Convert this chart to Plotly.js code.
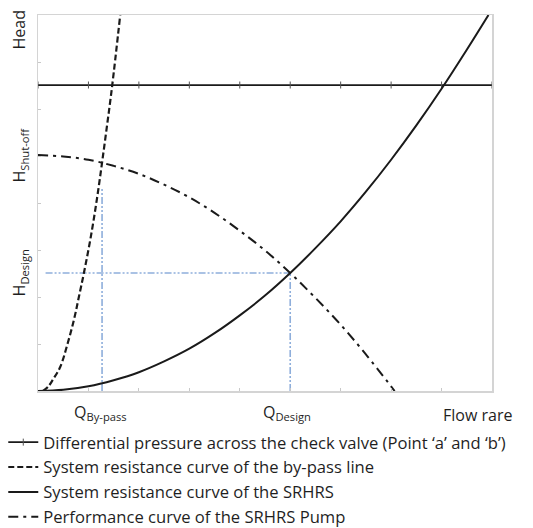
<!DOCTYPE html>
<html>
<head>
<meta charset="utf-8">
<script src="https://cdn.plot.ly/plotly-3.0.1.min.js"></script>
<style>html,body{margin:0;padding:0;background:#fff;}#chart{width:533px;height:528px;}</style>
</head>
<body>
<div id="chart"></div>
<script>
// Differential pressure across the check valve (flat line with markers)
const dpQ = [0, 1, 2, 3, 4, 5, 6, 7, 8, 9];
const dpH = [6.51, 6.51, 6.51, 6.51, 6.51, 6.51, 6.51, 6.51, 6.51, 6.51];

// System resistance curve of the by-pass line
const bypassQ = [0.10, 0.20, 0.30, 0.44, 0.59, 0.72, 0.81, 0.91, 1.05, 1.17, 1.27, 1.37, 1.47, 1.63];
const bypassH = [0.00, 0.09, 0.25, 0.51, 1.02, 1.55, 2.00, 2.51, 3.30, 4.10, 4.86, 5.66, 6.49, 8.00];

// System resistance curve of the SRHRS
const srhrsQ = [0, 0.5, 1, 1.5, 2, 2.5, 3, 3.5, 4, 4.5, 5, 5.5, 6, 6.5, 7, 7.5, 8, 8.5, 8.93];
const srhrsH = [0, 0.025, 0.10, 0.23, 0.40, 0.63, 0.90, 1.23, 1.61, 2.03, 2.51, 3.04, 3.61, 4.24, 4.92, 5.65, 6.43, 7.26, 8.00];

// Performance curve of the SRHRS pump
const pumpQ = [0, 0.5, 1, 1.5, 2, 2.5, 3, 3.5, 4, 4.5, 5, 5.5, 6, 6.5, 7.07];
const pumpH = [5.02, 4.99, 4.92, 4.79, 4.62, 4.39, 4.12, 3.79, 3.41, 2.99, 2.51, 1.98, 1.41, 0.78, 0.00];

// Reference (operating point) guide lines
const qBypass = 1.27, hBypassTop = 4.30;
const qDesign = 5.0, hDesign = 2.51, hShutoff = 5.02;
const guideStartQ = 0.15;

const legendNames = [
  "Differential pressure across the check valve (Point \u2018a\u2019 and \u2018b\u2019)",
  "System resistance curve of the by-pass line",
  "System resistance curve of the SRHRS",
  "Performance curve of the SRHRS Pump"
];

const FONT = "Open Sans, Noto Sans, sans-serif";
const TXT = "#1f1f1f";
const guide = {color: "#8eaedb", width: 1.6, dash: "7px,2px,2px,2px,2px,2px"};

const traces = [
  {x: [qBypass, qBypass], y: [0, hBypassTop], mode: "lines", line: guide, showlegend: false, hoverinfo: "skip"},
  {x: [qDesign, qDesign], y: [0, hDesign], mode: "lines", line: guide, showlegend: false, hoverinfo: "skip"},
  {x: [guideStartQ, qDesign], y: [hDesign, hDesign], mode: "lines", line: guide, showlegend: false, hoverinfo: "skip"},
  {x: dpQ, y: dpH, mode: "lines+markers", name: legendNames[0], legendgroup: "a",
   line: {color: "#1a1a1a", width: 1.8},
   marker: {symbol: "line-ns", size: 5, line: {color: "#555", width: 1}}},
  {x: bypassQ, y: bypassH, mode: "lines", name: legendNames[1], legendgroup: "b",
   line: {color: "#1a1a1a", width: 2.2, dash: "6px,3px", shape: "spline"}},
  {x: srhrsQ, y: srhrsH, mode: "lines", name: legendNames[2], legendgroup: "c",
   line: {color: "#1a1a1a", width: 2, shape: "spline"}},
  {x: pumpQ, y: pumpH, mode: "lines", name: legendNames[3], legendgroup: "d",
   line: {color: "#1a1a1a", width: 2, dash: "10px,5px,3px,5px", shape: "spline"}}
];

const axisCommon = {
  showgrid: false, zeroline: false, showticklabels: false,
  showline: true, mirror: true, linecolor: "#d4d4d4", linewidth: 1.5,
  ticks: "inside", ticklen: 3, tickcolor: "#c8c8c8", tickwidth: 1, dtick: 1, tick0: 0,
  fixedrange: true
};

const yLab = {xref: "paper", yref: "y", x: -0.041, xanchor: "center", yanchor: "middle",
              textangle: -90, showarrow: false, font: {family: FONT, size: 16, color: TXT}};
const xLab = {xref: "x", yref: "paper", y: 0, xanchor: "center", yanchor: "top",
              showarrow: false, font: {family: FONT, size: 16, color: TXT}};

const layout = {
  width: 533, height: 528,
  margin: {l: 38, r: 41, t: 15, b: 137, autoexpand: false},
  paper_bgcolor: "#fff", plot_bgcolor: "#fff",
  font: {family: FONT, color: TXT, size: 16},
  xaxis: Object.assign({}, axisCommon, {range: [0, 9]}),
  yaxis: Object.assign({}, axisCommon, {range: [0, 8]}),
  showlegend: true,
  legend: {
    x: -0.0765, xanchor: "left", y: -0.090, yanchor: "top",
    orientation: "v", bgcolor: "rgba(0,0,0,0)",
    font: {family: FONT, size: 16.6, color: TXT},
    tracegroupgap: 0.3, itemwidth: 30
  },
  annotations: [
    Object.assign({}, yLab, {text: "Head", y: 7.68}),
    Object.assign({}, yLab, {text: "H<sub>Shut-off</sub>", y: hShutoff}),
    Object.assign({}, yLab, {text: "H<sub>Design</sub>", y: hDesign}),
    Object.assign({}, xLab, {text: "Q<sub>By-pass</sub>", x: qBypass - 0.03, yshift: -8}),
    Object.assign({}, xLab, {text: "Q<sub>Design</sub>", x: qDesign - 0.07, yshift: -8}),
    Object.assign({}, xLab, {text: "Flow rare", x: 8.72, yshift: -11})
  ]
};

Plotly.newPlot("chart", traces, layout, {staticPlot: true, displayModeBar: false});
</script>
</body>
</html>
